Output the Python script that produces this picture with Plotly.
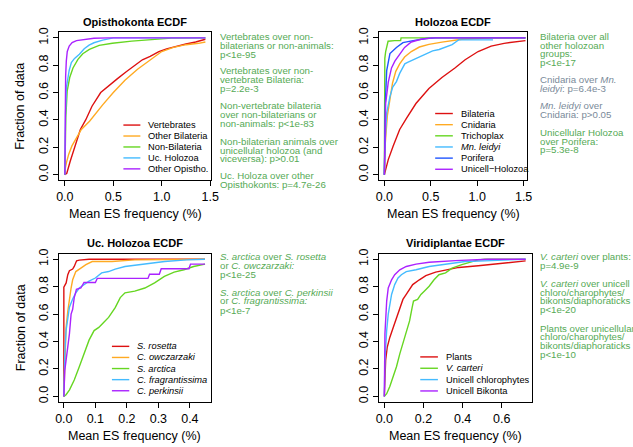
import plotly.graph_objects as go

W, H = 633, 447
FONT = "Liberation Sans, Arial, Helvetica, sans-serif"

# ---------------- Colours ----------------
RED = "#DD1111"
ORANGE = "#FFAA22"
GREEN = "#66D622"
CYAN = "#44BBFF"
BLUE = "#1F55FF"
PURPLE = "#AA22FF"
NOTE_GREEN = "#55AA55"
NOTE_GREY = "#7A8A99"

# ---------------- Panel 1: Opisthokonta ----------------
vert_x = [0, 0.02, 0.056, 0.1, 0.16, 0.215, 0.28, 0.37, 0.45, 0.54, 0.63, 0.72, 0.8, 0.88, 0.97, 1.05, 1.15, 1.25, 1.35, 1.45]
vert_y = [0, 0.01, 0.1, 0.2, 0.33, 0.4, 0.5, 0.6, 0.65, 0.7, 0.75, 0.8, 0.84, 0.865, 0.9, 0.92, 0.94, 0.955, 0.97, 0.99]
obil_x = [0, 0.005, 0.017, 0.04, 0.073, 0.123, 0.17, 0.255, 0.32, 0.39, 0.5, 0.62, 0.75, 0.886, 1.0, 1.12, 1.25, 1.38, 1.45]
obil_y = [0, 0.05, 0.09, 0.15, 0.21, 0.27, 0.33, 0.39, 0.45, 0.51, 0.6, 0.69, 0.77, 0.84, 0.9, 0.93, 0.95, 0.96, 0.97]
nbil_x = [0, 0.004, 0.01, 0.024, 0.05, 0.084, 0.135, 0.185, 0.253, 0.354, 0.49, 0.69, 0.89, 1.1, 1.45]
nbil_y = [0, 0.2, 0.42, 0.61, 0.71, 0.78, 0.843, 0.884, 0.916, 0.945, 0.96, 0.976, 0.988, 0.998, 1.0]
ucho_x = [0, 0.003, 0.007, 0.017, 0.044, 0.067, 0.1, 0.15, 0.2, 0.25, 0.3, 0.39, 0.455, 0.5, 1.45]
ucho_y = [0, 0.25, 0.45, 0.64, 0.76, 0.82, 0.85, 0.88, 0.92, 0.947, 0.964, 0.983, 0.995, 1.0, 1.0]
oopi_x = [0, 0.003, 0.008, 0.015, 0.025, 0.045, 0.075, 0.12, 0.2, 0.3, 0.45, 1.45]
oopi_y = [0, 0.5, 0.72, 0.83, 0.9, 0.94, 0.965, 0.98, 0.99, 0.997, 1.0, 1.0]

# ---------------- Panel 2: Holozoa ----------------
bila_x = [0, 0.042, 0.095, 0.165, 0.236, 0.34, 0.48, 0.62, 0.76, 0.87, 1.01, 1.15, 1.29, 1.52]
bila_y = [0, 0.11, 0.21, 0.33, 0.41, 0.52, 0.63, 0.71, 0.78, 0.84, 0.9, 0.94, 0.96, 0.98]
cnid_x = [0, 0.01, 0.032, 0.06, 0.088, 0.123, 0.165, 0.218, 0.29, 0.377, 0.48, 0.62, 0.73, 0.835, 1.01, 1.15, 1.52]
cnid_y = [0, 0.23, 0.43, 0.57, 0.67, 0.755, 0.81, 0.86, 0.9, 0.933, 0.952, 0.969, 0.98, 0.99, 0.995, 1.0, 1.0]
tric_x = [0, 0.005, 0.014, 0.03, 0.04, 0.11, 0.175, 0.18, 1.52]
tric_y = [0, 0.85, 0.9, 0.95, 0.975, 0.98, 0.98, 1.0, 1.0]
mnle_x = [0, 0.007, 0.025, 0.06, 0.09, 0.13, 0.165, 0.22, 0.25, 0.31, 0.38, 0.45, 0.52, 0.59, 0.66, 0.73, 0.78, 0.8, 1.17]
mnle_y = [0, 0.23, 0.45, 0.57, 0.64, 0.68, 0.74, 0.81, 0.82, 0.84, 0.86, 0.885, 0.905, 0.915, 0.93, 0.95, 0.975, 0.985, 0.985]
pori_x = [0, 0.01, 0.025, 0.06, 0.13, 0.2, 0.31, 0.45, 0.55, 1.52]
pori_y = [0, 0.52, 0.76, 0.885, 0.93, 0.965, 0.98, 0.995, 1.0, 1.0]
uhol_x = [0, 0.014, 0.042, 0.077, 0.113, 0.165, 0.218, 0.29, 0.394, 0.52, 1.52]
uhol_y = [0, 0.52, 0.676, 0.78, 0.83, 0.88, 0.93, 0.97, 0.99, 1.0, 1.0]

# ---------------- Panel 3: Uc. Holozoa ----------------
sros_x = [0, 0, 0.0073, 0.0125, 0.0177, 0.028, 0.033, 0.0405, 0.049, 0.08, 0.448]
sros_y = [0, 0.796, 0.827, 0.887, 0.916, 0.928, 0.947, 0.988, 0.993, 1.0, 1.0]
cowc_x = [0, 0.003, 0.007, 0.0125, 0.0177, 0.023, 0.028, 0.038, 0.054, 0.07, 0.09, 0.153, 0.225, 0.433, 0.448]
cowc_y = [0, 0.26, 0.5, 0.62, 0.72, 0.79, 0.85, 0.91, 0.935, 0.96, 0.983, 0.983, 0.995, 1.0, 1.0]
sarc_x = [0, 0.007, 0.018, 0.033, 0.049, 0.064, 0.08, 0.096, 0.111, 0.127, 0.142, 0.163, 0.179, 0.194, 0.225, 0.257, 0.288, 0.319, 0.35, 0.381, 0.412, 0.448]
sarc_y = [0, 0.012, 0.048, 0.12, 0.216, 0.31, 0.41, 0.48, 0.503, 0.54, 0.576, 0.647, 0.72, 0.755, 0.767, 0.79, 0.827, 0.875, 0.906, 0.923, 0.947, 0.964]
cfra_x = [0, 0.003, 0.007, 0.0125, 0.0177, 0.028, 0.038, 0.049, 0.064, 0.08, 0.1, 0.12, 0.142, 0.163, 0.194, 0.246, 0.267, 0.32, 0.39, 0.448]
cfra_y = [0, 0.31, 0.48, 0.575, 0.65, 0.71, 0.755, 0.79, 0.815, 0.84, 0.863, 0.9, 0.91, 0.928, 0.947, 0.96, 0.97, 0.983, 0.995, 1.0]
cper_x = [0, 0.003, 0.0177, 0.023, 0.028, 0.033, 0.04, 0.054, 0.064, 0.1, 0.106, 0.267, 0.272, 0.303, 0.309, 0.397, 0.402, 0.448]
cper_y = [0, 0.19, 0.456, 0.6, 0.635, 0.72, 0.78, 0.79, 0.83, 0.83, 0.86, 0.86, 0.89, 0.89, 0.93, 0.93, 0.964, 0.964]

# ---------------- Panel 4: Viridiplantae ----------------
plan_x = [0, 0.0067, 0.015, 0.028, 0.045, 0.062, 0.079, 0.095, 0.112, 0.129, 0.145, 0.179, 0.212, 0.262, 0.313, 0.38, 0.48, 0.613, 0.722]
plan_y = [0, 0.264, 0.36, 0.43, 0.5, 0.575, 0.647, 0.707, 0.743, 0.78, 0.815, 0.85, 0.88, 0.906, 0.923, 0.94, 0.952, 0.97, 0.988]
vcar_x = [0, 0.012, 0.028, 0.045, 0.062, 0.079, 0.095, 0.112, 0.12, 0.129, 0.142, 0.149, 0.17, 0.187, 0.204, 0.229, 0.254, 0.279, 0.313, 0.346, 0.396, 0.446, 0.48, 0.513, 0.722]
vcar_y = [0, 0.02, 0.072, 0.144, 0.216, 0.31, 0.384, 0.48, 0.504, 0.55, 0.647, 0.695, 0.707, 0.743, 0.767, 0.803, 0.85, 0.887, 0.9, 0.935, 0.96, 0.978, 0.995, 1.0, 1.0]
uchl_x = [0, 0.003, 0.012, 0.02, 0.037, 0.053, 0.07, 0.087, 0.112, 0.162, 0.229, 0.313, 0.413, 0.547, 0.722]
uchl_y = [0, 0.264, 0.48, 0.6, 0.743, 0.815, 0.863, 0.887, 0.91, 0.923, 0.947, 0.964, 0.983, 0.99, 1.0]
ubik_x = [0, 0.003, 0.012, 0.02, 0.037, 0.053, 0.079, 0.112, 0.162, 0.229, 0.363, 0.53, 0.722]
ubik_y = [0, 0.456, 0.695, 0.79, 0.85, 0.887, 0.923, 0.947, 0.964, 0.978, 0.99, 1.0, 1.0]

# ---------------- Texts ----------------
titles = ["Opisthokonta ECDF", "Holozoa ECDF", "Uc. Holozoa ECDF", "Viridiplantae ECDF"]
xlabel = "Mean ES frequency (%)"
ylabel = "Fraction of data"

legend1 = ["Vertebrates", "Other Bilateria", "Non-Bilateria", "Uc. Holozoa", "Other Opistho."]
legend2 = ["Bilateria", "Cnidaria", "Trichoplax", "<i>Mn. leidyi</i>", "Porifera", "Unicell\u2212Holozoa"]
legend3 = ["<i>S. rosetta</i>", "<i>C. owczarzaki</i>", "<i>S. arctica</i>", "<i>C. fragrantissima</i>", "<i>C. perkinsii</i>"]
legend4 = ["Plants", "<i>V. carteri</i>", "Unicell chlorophytes", "Unicell Bikonta"]

notes1 = ["Vertebrates over non-", "bilaterians or non-animals:", "p<1e-95",
          "Vertebrates over non-", "vertebrate Bilateria:", "p=2.2e-3",
          "Non-vertebrate bilateria", "over non-bilaterians or", "non-animals: p<1e-83",
          "Non-bilaterian animals over", "unicellular holozoa (and", "viceversa): p>0.01",
          "Uc. Holoza over other", "Opisthokonts: p=4.7e-26"]
notes2 = ["Bilateria over all", "other holozoan", "groups:", "p<1e-17",
          "Cnidaria over <i>Mn.</i>", "<i>leidyi</i>: p=6.4e-3",
          "<i>Mn. leidyi</i> over", "Cnidaria: p>0.05",
          "Unicellular Holozoa", "over Porifera:", "p=5.3e-8"]
notes3 = ["<i>S. arctica</i> over <i>S. rosetta</i>", "or <i>C. owczarzaki:</i>", "p<1e-25",
          "<i>S. arctica</i> over <i>C. perkinsii</i>", "or <i>C. fragrantissima:</i>", "p<1e-7"]
notes4 = ["<i>V. carteri</i> over plants:", "p=4.9e-9",
          "<i>V. carteri</i> over unicell", "chloro/charophytes/", "bikonts/diaphoraticks", "p<1e-20",
          "Plants over unicellular", "chloro/charophytes/", "bikonts/diaphoraticks", "p<1e-10"]

# ---------------- Layout geometry (pixels) ----------------
def px(x):
    return x / W

def py(y):
    return 1 - y / H

panels = [
    dict(box=(56.3, 211.0, 27.75, 177.5), xr=[-0.058, 1.508], xt=[0, 0.5, 1.0, 1.5]),
    dict(box=(382.7, 532.7, 27.75, 177.5), xr=[-0.053, 1.532], xt=[0, 0.5, 1.0, 1.5]),
    dict(box=(55.7, 211.0, 252.1, 402.3), xr=[-0.0165, 0.467], xt=[0, 0.1, 0.2, 0.3, 0.4]),
    dict(box=(382.3, 537.7, 252.1, 402.3), xr=[-0.027, 0.752], xt=[0, 0.2, 0.4, 0.6]),
]

series = [
    [(vert_x, vert_y, RED), (obil_x, obil_y, ORANGE), (nbil_x, nbil_y, GREEN), (ucho_x, ucho_y, CYAN), (oopi_x, oopi_y, PURPLE)],
    [(bila_x, bila_y, RED), (cnid_x, cnid_y, ORANGE), (tric_x, tric_y, GREEN), (mnle_x, mnle_y, CYAN), (pori_x, pori_y, BLUE), (uhol_x, uhol_y, PURPLE)],
    [(sros_x, sros_y, RED), (cowc_x, cowc_y, ORANGE), (sarc_x, sarc_y, GREEN), (cfra_x, cfra_y, CYAN), (cper_x, cper_y, PURPLE)],
    [(plan_x, plan_y, RED), (vcar_x, vcar_y, GREEN), (uchl_x, uchl_y, CYAN), (ubik_x, ubik_y, PURPLE)],
]

legends = [
    dict(labels=legend1, colors=[RED, ORANGE, GREEN, CYAN, PURPLE], x0=121.7, x1=139.0, tx=144.8, y0=121.7, dy=11.1),
    dict(labels=legend2, colors=[RED, ORANGE, GREEN, CYAN, BLUE, PURPLE], x0=439.5, x1=457.5, tx=463.4, y0=110.0, dy=11.3),
    dict(labels=legend3, colors=[RED, ORANGE, GREEN, CYAN, PURPLE], x0=110.0, x1=127.7, tx=133.1, y0=346.0, dy=11.25),
    dict(labels=legend4, colors=[RED, GREEN, CYAN, PURPLE], x0=424.3, x1=442.3, tx=448.1, y0=356.7, dy=11.5),
]

notes = [
    dict(lines=notes1, x=217.8, ys=[32.3, 41.2, 50.2, 66.7, 75.7, 84.5, 102.3, 111.1, 120.0, 138.3, 147.0, 155.8, 173.3, 182.0], colors=[NOTE_GREEN] * 14),
    dict(lines=notes2, x=544.6, ys=[32.3, 41.0, 49.4, 57.8, 76.0, 84.5, 102.3, 111.0, 129.3, 137.9, 146.6],
         colors=[NOTE_GREEN] * 4 + [NOTE_GREY] * 4 + [NOTE_GREEN] * 3),
    dict(lines=notes3, x=217.8, ys=[255.2, 264.2, 273.2, 291.0, 300.0, 309.2], colors=[NOTE_GREEN] * 6),
    dict(lines=notes4, x=544.3, ys=[255.2, 264.2, 282.7, 291.3, 300.0, 309.0, 327.7, 336.3, 345.0, 354.0], colors=[NOTE_GREEN] * 10),
]

fig = go.Figure()
annotations = []
shapes = []

for i, (p, ser) in enumerate(zip(panels, series)):
    n = "" if i == 0 else str(i + 1)
    xa, ya = "x" + n, "y" + n
    for xs, ys, col in ser:
        fig.add_trace(go.Scatter(x=xs, y=ys, mode="lines", xaxis=xa, yaxis=ya,
                                 line=dict(color=col, width=1.4), showlegend=False,
                                 hoverinfo="skip"))
    l, r, t, b = p["box"]
    common = dict(showline=True, linecolor="black", linewidth=1, mirror=True,
                  ticks="outside", ticklen=5, tickwidth=1, tickcolor="black",
                  showgrid=False, zeroline=False,
                  tickfont=dict(family=FONT, size=12.5, color="black"))
    fig.layout["xaxis" + n] = dict(domain=[px(l), px(r)], range=p["xr"], anchor=ya,
                                   tickmode="array", tickvals=p["xt"],
                                   ticktext=["%.1f" % v for v in p["xt"]], **common)
    fig.layout["yaxis" + n] = dict(domain=[py(b), py(t)], range=[-0.04, 1.04], anchor=xa,
                                   tickmode="array", tickvals=[0, 0.2, 0.4, 0.6, 0.8, 1.0],
                                   ticktext=["0.0", "0.2", "0.4", "0.6", "0.8", "1.0"],
                                   tickangle=-90, **common)
    cx = (l + r) / 2
    annotations.append(dict(text="<b>%s</b>" % titles[i], x=px(cx), y=py(t - 11.0),
                            xref="paper", yref="paper", showarrow=False,
                            xanchor="center", yanchor="middle",
                            font=dict(family=FONT, size=11, color="black")))
    annotations.append(dict(text=xlabel, x=px(cx), y=py(b + 34.3), xref="paper", yref="paper",
                            showarrow=False, xanchor="center", yanchor="middle",
                            font=dict(family=FONT, size=12.5, color="black")))
    if i in (0, 2):
        annotations.append(dict(text=ylabel, x=px(16.7), y=py((t + b) / 2), xref="paper", yref="paper",
                                showarrow=False, xanchor="center", yanchor="middle", textangle=-90,
                                font=dict(family=FONT, size=12.5, color="black")))
    lg = legends[i]
    for k, (lab, col) in enumerate(zip(lg["labels"], lg["colors"])):
        yy = lg["y0"] + k * lg["dy"]
        shapes.append(dict(type="line", xref="paper", yref="paper",
                           x0=px(lg["x0"]), x1=px(lg["x1"]), y0=py(yy), y1=py(yy),
                           line=dict(color=col, width=1.4)))
        annotations.append(dict(text=lab, x=px(lg["tx"]), y=py(yy), xref="paper", yref="paper",
                                showarrow=False, xanchor="left", yanchor="middle",
                                font=dict(family=FONT, size=9.3, color="black")))
    nt = notes[i]
    for txt, yy, col in zip(nt["lines"], nt["ys"], nt["colors"]):
        annotations.append(dict(text=txt, x=px(nt["x"]), y=py(yy), xref="paper", yref="paper",
                                showarrow=False, xanchor="left", yanchor="middle",
                                font=dict(family=FONT, size=9.7, color=col)))

fig.update_layout(width=W, height=H, margin=dict(l=0, r=0, t=0, b=0),
                  paper_bgcolor="white", plot_bgcolor="white",
                  annotations=annotations, shapes=shapes, showlegend=False)

fig.write_html("out.html", config={"displayModeBar": False},
               post_script="document.body.style.margin='0px';")
